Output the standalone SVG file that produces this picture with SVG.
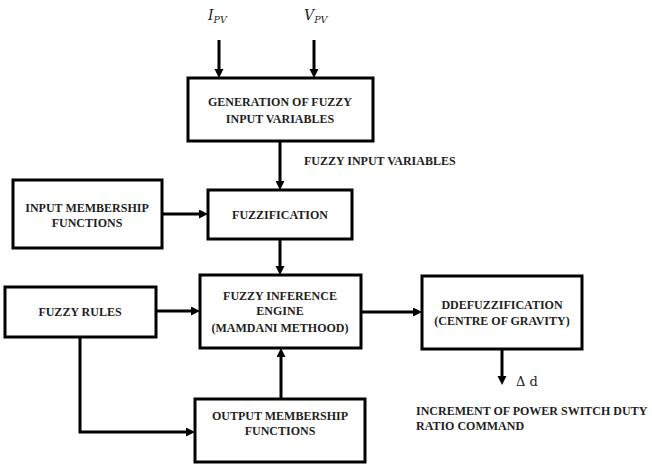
<svg xmlns="http://www.w3.org/2000/svg" width="652" height="465" viewBox="0 0 652 465">
<style>
.box{fill:#fff;stroke:#000;stroke-width:3}
.t{font-family:"Liberation Serif","Times New Roman",serif;font-weight:bold;font-size:12px;fill:#1e1e1e;text-anchor:middle}
.tl{font-family:"Liberation Serif","Times New Roman",serif;font-weight:bold;font-size:12px;fill:#1e1e1e}
.c{fill:none;stroke:#000;stroke-width:3}
.m{font-family:"DejaVu Serif","Liberation Serif",serif;font-style:italic;fill:#1e1e1e}
</style>
<defs>
<marker id="ah" markerUnits="userSpaceOnUse" markerWidth="10" markerHeight="10" refX="1" refY="4.5" orient="auto">
<path d="M0,0 L9,4.5 L0,9 z" fill="#000"/>
</marker>
</defs>
<rect width="652" height="465" fill="#fff"/>
<g id="connectors">
<path class="c" d="M219,40 V70" marker-end="url(#ah)"/>
<path class="c" d="M314,40 V70" marker-end="url(#ah)"/>
<path class="c" d="M280,142 V182" marker-end="url(#ah)"/>
<path class="c" d="M163,214 H200" marker-end="url(#ah)"/>
<path class="c" d="M280,240 V267" marker-end="url(#ah)"/>
<path class="c" d="M157,311 H192" marker-end="url(#ah)"/>
<path class="c" d="M281,398 V356" marker-end="url(#ah)"/>
<path class="c" d="M80,338 V432 H187" marker-end="url(#ah)"/>
<path class="c" d="M362,312 H414" marker-end="url(#ah)"/>
<path class="c" d="M502,350 V377" marker-end="url(#ah)"/>
</g>
<g id="ipv">
<text class="m" x="208" y="20" font-size="14">I<tspan font-size="9.5" dy="3">PV</tspan></text>
</g>
<g id="vpv">
<text class="m" x="304" y="20" font-size="14">V<tspan font-size="9.5" dy="3">PV</tspan></text>
</g>
<g id="generation">
<rect class="box" x="188" y="78" width="185" height="63"/>
<text class="t" x="280" y="106">GENERATION  OF FUZZY</text>
<text class="t" x="280" y="123">INPUT VARIABLES</text>
</g>
<g id="fuzzy-input-variables-label">
<text class="tl" x="304" y="165">FUZZY INPUT VARIABLES</text>
</g>
<g id="input-membership">
<rect class="box" x="13" y="180" width="149" height="68"/>
<text class="t" x="87" y="212">INPUT MEMBERSHIP</text>
<text class="t" x="87" y="227">FUNCTIONS</text>
</g>
<g id="fuzzification">
<rect class="box" x="208" y="190" width="144" height="49"/>
<text class="t" x="280" y="219">FUZZIFICATION</text>
</g>
<g id="fuzzy-rules">
<rect class="box" x="5" y="287" width="151" height="50"/>
<text class="t" x="80" y="316">FUZZY RULES</text>
</g>
<g id="inference">
<rect class="box" x="200" y="275" width="161" height="73"/>
<text class="t" x="280" y="300">FUZZY INFERENCE</text>
<text class="t" x="280" y="315">ENGINE</text>
<text class="t" x="280" y="332">(MAMDANI  METHOOD)</text>
</g>
<g id="defuzzification">
<rect class="box" x="422" y="276" width="160" height="73"/>
<text class="t" x="502" y="309">DDEFUZZIFICATION</text>
<text class="t" x="502" y="325">(CENTRE  OF GRAVITY)</text>
</g>
<g id="output-membership">
<rect class="box" x="195" y="399" width="170" height="63"/>
<text class="t" x="280" y="420">OUTPUT  MEMBERSHIP</text>
<text class="t" x="280" y="435">FUNCTIONS</text>
</g>
<g id="delta-d">
<text x="516" y="386" font-family="DejaVu Serif, Liberation Serif, serif" font-size="13" fill="#1e1e1e">Δ d</text>
</g>
<g id="increment-label">
<text class="tl" x="416" y="415">INCREMENT  OF POWER SWITCH  DUTY</text>
<text class="tl" x="416" y="430">RATIO  COMMAND</text>
</g>
</svg>
